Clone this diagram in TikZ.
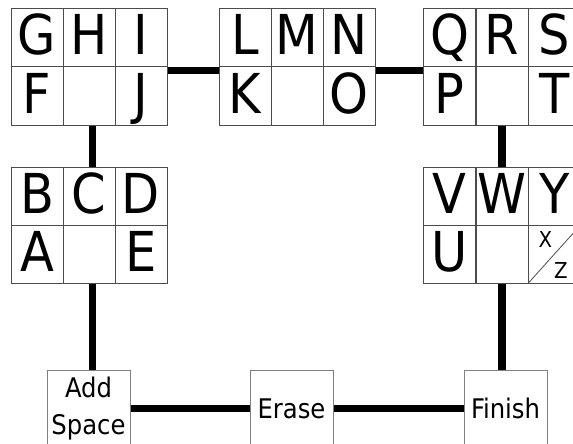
\documentclass[tikz,border=0pt]{standalone}
\usepackage{fontspec}
\setmainfont{DejaVu Sans}
\newfontfamily\condfont{DejaVu Sans Condensed}
\begin{document}
\begin{tikzpicture}[x=1pt,y=-1pt,
  cell/.style={draw=black!70, line width=1pt, minimum width=52pt, minimum height=58pt,
    inner sep=0pt, font=\condfont\fontsize{55}{55}\selectfont, text height=40pt, text depth=6pt},
  btn/.style={draw=black!50, line width=1pt, minimum width=83pt, minimum height=75.5pt,
    inner sep=0pt, font=\condfont\fontsize{27}{37}\selectfont, align=center},
  small/.style={inner sep=0pt, font=\condfont\fontsize{22}{22}\selectfont},
  conn/.style={line width=7.5pt}]
\useasboundingbox (0,0) rectangle (573,444);
% block 1
\node[cell] (G) at (37,38) {G};
\node[cell] (H) at (89,38) {H};
\node[cell] (I) at (141,38) {I};
\node[cell] (F) at (37,96) {F};
\node[cell] (e1) at (89,96) {};
\node[cell] (J) at (141,96) {J};
% block 2
\node[cell] (L) at (245,38) {L};
\node[cell] (M) at (297,38) {M};
\node[cell] (N) at (349,38) {N};
\node[cell] (K) at (245,96) {K};
\node[cell] (e2) at (297,96) {};
\node[cell] (O) at (349,96) {O};
% block 3
\node[cell] (Q) at (449.5,38) {Q};
\node[cell] (R) at (502,38) {R};
\node[cell] (S) at (554.5,38) {S};
\node[cell] (P) at (449.5,96) {P};
\node[cell] (e3) at (502,96) {};
\node[cell] (T) at (554.5,96) {T};
% block A
\node[cell] (B) at (37,196) {B};
\node[cell] (C) at (89,196) {C};
\node[cell] (D) at (141,196) {D};
\node[cell] (A) at (37,254) {A};
\node[cell] (e4) at (89,254) {};
\node[cell] (E) at (141,254) {E};
% block V
\node[cell] (V) at (449.5,196) {V};
\node[cell] (W) at (502,196) {W};
\node[cell] (Y) at (554.5,196) {Y};
\node[cell] (U) at (449.5,254) {U};
\node[cell] (e5) at (502,254) {};
\node[cell] (xz) at (554.5,254) {};
\draw[draw=black!70, line width=0.8pt] (xz.south west) -- (xz.north east);
\node[small] (X) at (545.5,239) {X};
\node[small] (Z) at (561,270) {Z};
% buttons
\node[btn] (add) at (88.5,408.5) {Add\\Space};
\node[btn] (era) at (291.5,408.5) {Erase};
\node[btn] (fin) at (505.5,408.5) {Finish};
% connectors
\draw[conn] ([yshift=-4pt]J.north east) -- ([yshift=-4pt]K.north west);
\draw[conn] ([yshift=-4pt]O.north east) -- ([yshift=-4pt]P.north west);
\draw[conn] ([xshift=3.5pt]e1.south) -- ([xshift=3.5pt]C.north);
\draw[conn] (e3.south) -- (W.north);
\draw[conn] ([xshift=3.5pt]e4.south) -- ([xshift=3.5pt]e4.south |- add.north);
\draw[conn] (e5.south) -- (e5.south |- fin.north);
\draw[conn] (add) -- (era);
\draw[conn] (era) -- (fin);
\end{tikzpicture}
\end{document}
